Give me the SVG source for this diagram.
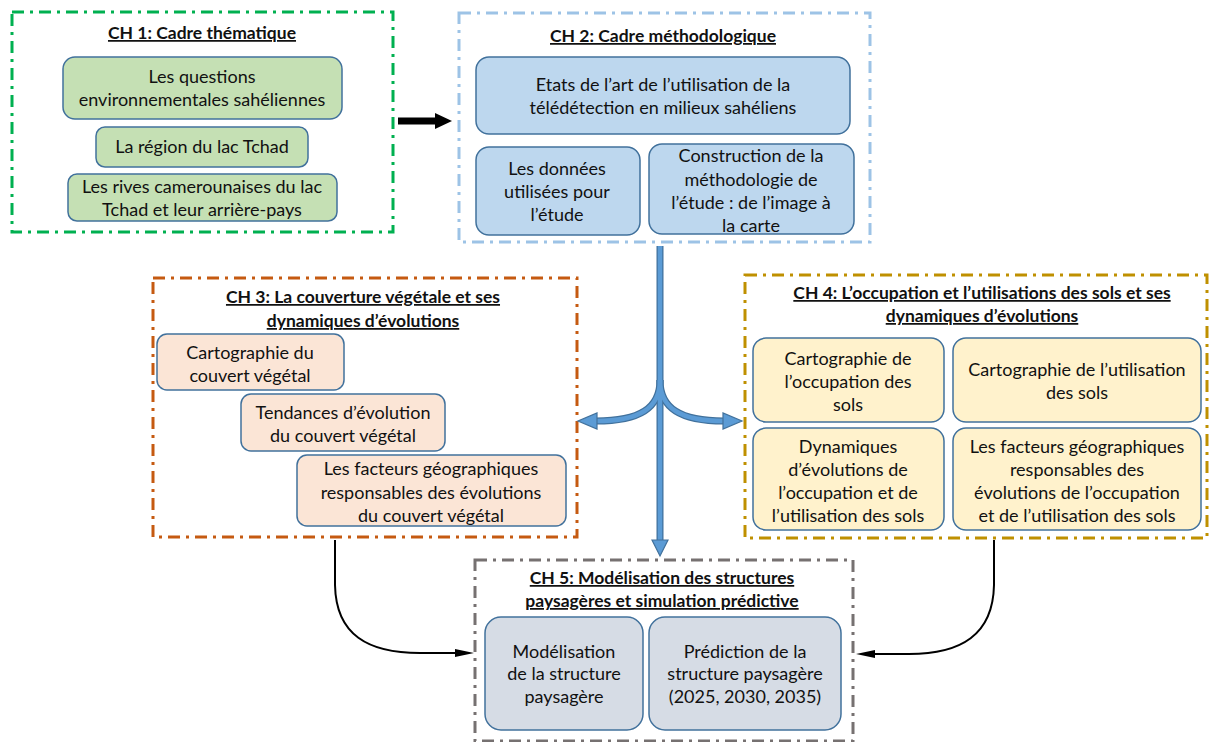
<svg xmlns="http://www.w3.org/2000/svg" width="1209" height="742" viewBox="0 0 1209 742">
<style>
text{font-family:Lato,"Noto Sans","Liberation Sans",sans-serif;font-size:18px;fill:#111;text-anchor:middle}
.t{font-weight:bold;text-decoration:underline;font-size:17.5px}
.frame{fill:none;stroke-width:3;stroke-dasharray:12 6 3 6}
.box{stroke:#41719C;stroke-width:1.5}
.g{fill:#C5E0B4}.b{fill:#BDD7EE}.o{fill:#FBE5D6}.y{fill:#FFF2CC}.s{fill:#D6DCE5}
.bl-out{fill:none;stroke:#41719C;stroke-width:7}
.bl-in{fill:none;stroke:#5B9BD5;stroke-width:4.5}
.bl-head{fill:#5B9BD5;stroke:#41719C;stroke-width:1.2}
.blk{fill:none;stroke:#000;stroke-width:2}
</style>
<rect width="1209" height="742" fill="#fff"/>

<g id="ch1">
<rect class="frame" x="12" y="12" width="381" height="220" stroke="#00B050"/>
<text class="t" x="202" y="39">CH 1: Cadre thématique</text>
<rect class="box g" x="63" y="57" width="279" height="62" rx="12"/>
<text x="202" y="83">Les questions</text>
<text x="202" y="106">environnementales sahéliennes</text>
<rect class="box g" x="96" y="127" width="212" height="40" rx="9"/>
<text x="202" y="153">La région du lac Tchad</text>
<rect class="box g" x="68" y="174" width="269" height="47" rx="9"/>
<text x="202" y="193">Les rives camerounaises du lac</text>
<text x="202" y="216">Tchad et leur arrière-pays</text>
</g>

<g id="ch2">
<rect class="frame" x="459" y="13" width="411" height="229" stroke="#9DC3E6"/>
<text class="t" x="663" y="42">CH 2: Cadre méthodologique</text>
<rect class="box b" x="476" y="57" width="374" height="77" rx="13"/>
<text x="663" y="91">Etats de l’art de l’utilisation de la</text>
<text x="663" y="114">télédétection en milieux sahéliens</text>
<rect class="box b" x="476" y="147" width="164" height="88" rx="13"/>
<text x="557" y="175">Les données</text>
<text x="557" y="198">utilisées pour</text>
<text x="557" y="221">l’étude</text>
<rect class="box b" x="649" y="144" width="205" height="90" rx="13"/>
<text x="751" y="162">Construction de la</text>
<text x="751" y="186">méthodologie de</text>
<text x="751" y="209">l’étude : de l’image à</text>
<text x="751" y="232">la carte</text>
</g>

<g id="ch3">
<rect class="frame" x="153" y="278" width="424" height="259" stroke="#C55A11"/>
<text class="t" x="363" y="303">CH 3: La couverture végétale et ses</text>
<text class="t" x="363" y="327">dynamiques d’évolutions</text>
<rect class="box o" x="157" y="334" width="187" height="56" rx="10"/>
<text x="250" y="359">Cartographie du</text>
<text x="250" y="382">couvert végétal</text>
<rect class="box o" x="241" y="394" width="204" height="57" rx="10"/>
<text x="343" y="419">Tendances d’évolution</text>
<text x="343" y="442">du couvert végétal</text>
<rect class="box o" x="297" y="455" width="269" height="71" rx="10"/>
<text x="431" y="475">Les facteurs géographiques</text>
<text x="431" y="499">responsables des évolutions</text>
<text x="431" y="522">du couvert végétal</text>
</g>

<g id="ch4">
<rect class="frame" x="745" y="275" width="462" height="263" stroke="#BF9000"/>
<text class="t" x="982" y="299">CH 4: L’occupation et l’utilisations des sols et ses</text>
<text class="t" x="982" y="322">dynamiques d’évolutions</text>
<rect class="box y" x="753" y="338" width="191" height="84" rx="13"/>
<text x="848" y="365">Cartographie de</text>
<text x="848" y="388">l’occupation des</text>
<text x="848" y="411">sols</text>
<rect class="box y" x="953" y="338" width="248" height="84" rx="13"/>
<text x="1077" y="376">Cartographie de l’utilisation</text>
<text x="1077" y="399">des sols</text>
<rect class="box y" x="753" y="428" width="191" height="102" rx="13"/>
<text x="848" y="453">Dynamiques</text>
<text x="848" y="476">d’évolutions de</text>
<text x="848" y="499">l’occupation et de</text>
<text x="848" y="522">l’utilisation des sols</text>
<rect class="box y" x="953" y="428" width="248" height="102" rx="13"/>
<text x="1077" y="453">Les facteurs géographiques</text>
<text x="1077" y="476">responsables des</text>
<text x="1077" y="499">évolutions de l’occupation</text>
<text x="1077" y="522">et de l’utilisation des sols</text>
</g>

<g id="ch5">
<rect class="frame" x="475" y="560" width="378" height="181" stroke="#767171"/>
<text class="t" x="662" y="584">CH 5: Modélisation des structures</text>
<text class="t" x="662" y="607">paysagères et simulation prédictive</text>
<rect class="box s" x="485" y="617" width="158" height="113" rx="16"/>
<text x="564" y="658">Modélisation</text>
<text x="564" y="680">de la structure</text>
<text x="564" y="703">paysagère</text>
<rect class="box s" x="649" y="617" width="192" height="113" rx="16"/>
<text x="745" y="658">Prédiction de la</text>
<text x="745" y="680">structure paysagère</text>
<text x="745" y="703">(2025, 2030, 2035)</text>
</g>

<g id="connectors">
<path d="M398,121 H436" stroke="#000" stroke-width="7" fill="none"/>
<polygon points="435,113 452,121 435,129" fill="#000"/>

<path class="bl-out" d="M660,246 V541"/>
<path class="bl-out" d="M660,380 C660,408 640,421 596,421"/>
<path class="bl-out" d="M660,380 C660,408 680,421 724,421"/>
<path class="bl-in" d="M660,246 V541"/>
<path class="bl-in" d="M660,380 C660,408 640,421 596,421"/>
<path class="bl-in" d="M660,380 C660,408 680,421 724,421"/>
<polygon class="bl-head" points="652,540 668,540 660,556"/>
<polygon class="bl-head" points="597,413 597,429 578,421"/>
<polygon class="bl-head" points="723,413 723,429 742,421"/>

<path class="blk" d="M335,540 V585 C336,635 368,653 420,653 H460"/>
<polygon points="455,649 474,653 455,657" fill="#000"/>
<path class="blk" d="M994,540 V585 C993,635 961,654 909,654 H870"/>
<polygon points="875,650 856,654 875,658" fill="#000"/>
</g>
</svg>
